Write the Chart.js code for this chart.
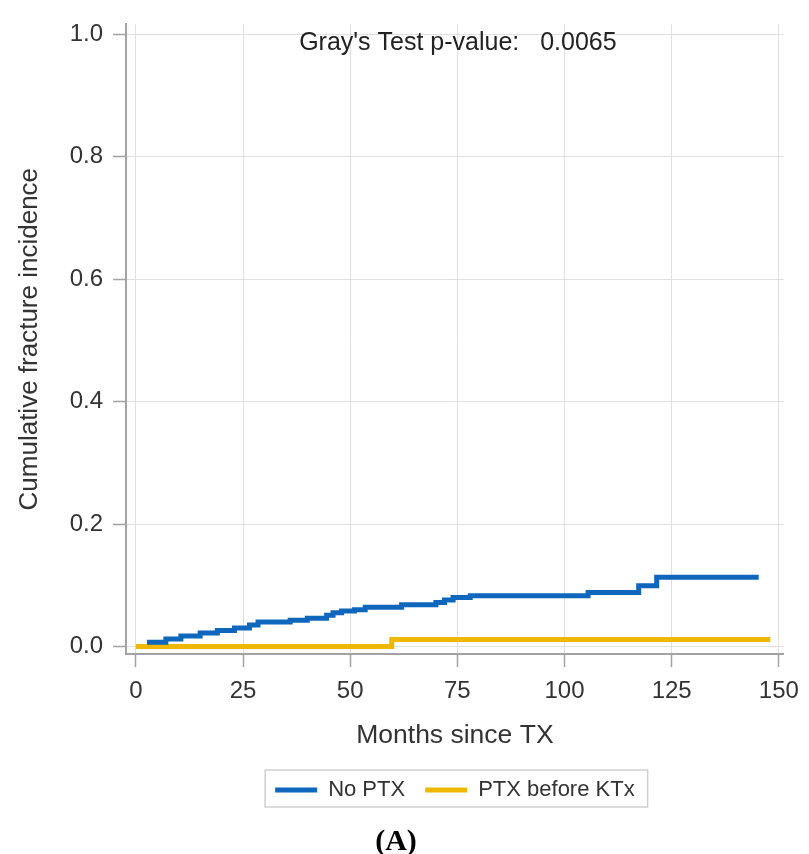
<!DOCTYPE html>
<html>
<head>
<meta charset="utf-8">
<script src="https://cdn.jsdelivr.net/npm/chart.js@4.4.0/dist/chart.umd.min.js"></script>
<style>
  html, body { margin: 0; padding: 0; background: #fff; }
  #wrap { width: 809px; height: 854px; }
</style>
</head>
<body>
<div id="wrap"><canvas id="chart" width="809" height="854"></canvas></div>
<script>
// ---------- data ----------
const blueMonths = [2.6, 7, 10.5, 15, 19, 23, 26.5, 28.5, 36, 40, 44.5, 46, 48, 51, 53.5, 62, 70, 72, 74, 78, 105.5, 117.3, 121.5, 145.3];
const blueCif = [0.007, 0.012, 0.017, 0.022, 0.026, 0.030, 0.035, 0.040, 0.043, 0.046, 0.051, 0.055, 0.058, 0.060, 0.064, 0.068, 0.072, 0.076, 0.080, 0.083, 0.088, 0.099, 0.113, 0.113];
const yellowMonths = [0, 59.7, 148];
const yellowCif = [0, 0.0115, 0.0115];
const seriesNames = ["No PTX", "PTX before KTx"];
const xTicks = [0, 25, 50, 75, 100, 125, 150];
const yTicks = [0, 0.2, 0.4, 0.6, 0.8, 1.0];
const testLabel = "Gray's Test p-value:   0.0065";

const sans = '"Liberation Sans", Arial, sans-serif';
const textColor = "#333";
const axisColor = "#a3a3a3";
const gridColor = "#e0e0e0";

const toPoints = (xs, ys) => xs.map((x, i) => ({ x: x, y: ys[i] }));

// p-value text inside the plot + frame round the legend
const extras = {
  id: "extras",
  afterDraw(chart) {
    const ctx = chart.ctx;
    const area = chart.chartArea;
    ctx.save();
    ctx.font = "25px " + sans;
    ctx.fillStyle = "#222";
    ctx.textAlign = "center";
    ctx.textBaseline = "middle";
    ctx.fillText(testLabel, (area.left + area.right) / 2 + 3, 43);

    const boxes = chart.legend.legendHitBoxes;
    if (boxes && boxes.length) {
      const first = boxes[0], last = boxes[boxes.length - 1];
      const cy = first.top + first.height / 2;
      ctx.strokeStyle = "#cfcfcf";
      ctx.lineWidth = 1.5;
      ctx.strokeRect(first.left - 10, cy - 20, last.left + last.width + 23 - first.left, 37);
    }
    ctx.restore();
  }
};

new Chart(document.getElementById("chart"), {
  type: "line",
  data: {
    datasets: [
      {
        label: seriesNames[0],
        data: toPoints(blueMonths, blueCif),
        borderColor: "#0f66bd",
        backgroundColor: "#0f66bd",
        borderWidth: 5,
        stepped: true,
        pointRadius: 0
      },
      {
        label: seriesNames[1],
        data: toPoints(yellowMonths, yellowCif),
        borderColor: "#efb700",
        backgroundColor: "#efb700",
        borderWidth: 5,
        stepped: true,
        pointRadius: 0
      }
    ]
  },
  options: {
    responsive: false,
    devicePixelRatio: 1,
    animation: false,
    layout: { padding: { top: 18, right: 17, left: 0, bottom: 0 } },
    scales: {
      x: {
        type: "linear",
        min: -2.3,
        max: 151.15,
        afterBuildTicks: axis => { axis.ticks = xTicks.map(v => ({ value: v })); },
        afterFit: axis => { axis.height = 105; },
        ticks: { color: textColor, font: { family: sans, size: 24 }, padding: 10, maxRotation: 0 },
        grid: { color: gridColor, lineWidth: 1, tickColor: axisColor, tickLength: 13, tickWidth: 1.5 },
        border: { color: axisColor, width: 2 },
        title: {
          display: true,
          text: "Months since TX",
          color: textColor,
          font: { family: sans, size: 26.5 },
          padding: { top: 0, bottom: 7 }
        }
      },
      y: {
        min: -0.0123,
        max: 1.016,
        afterBuildTicks: axis => { axis.ticks = yTicks.map(v => ({ value: v })); },
        afterFit: axis => { axis.width = 126; },
        ticks: { color: textColor, font: { family: sans, size: 24 }, padding: 10, callback: v => v.toFixed(1) },
        grid: { color: gridColor, lineWidth: 1, tickColor: axisColor, tickLength: 13, tickWidth: 1.5 },
        border: { color: axisColor, width: 2 },
        title: {
          display: true,
          text: "Cumulative fracture incidence",
          color: textColor,
          font: { family: sans, size: 26 },
          padding: { top: 14, bottom: 0 }
        }
      }
    },
    plugins: {
      legend: {
        position: "bottom",
        fullSize: false,
        labels: {
          color: textColor,
          font: { family: sans, size: 22 },
          boxWidth: 42,
          boxHeight: 5,
          padding: 20,
          generateLabels: chart =>
            Chart.defaults.plugins.legend.labels.generateLabels(chart).map(l => Object.assign(l, { lineWidth: 0 }))
        }
      },
      title: {
        display: true,
        position: "bottom",
        text: "(A)",
        color: "#000",
        font: { family: '"Liberation Serif", "Times New Roman", serif', size: 30, weight: "bold", lineHeight: 0.7 },
        padding: { top: 21, bottom: 1 }
      },
      tooltip: { enabled: false }
    }
  },
  plugins: [extras]
});
</script>
</body>
</html>
